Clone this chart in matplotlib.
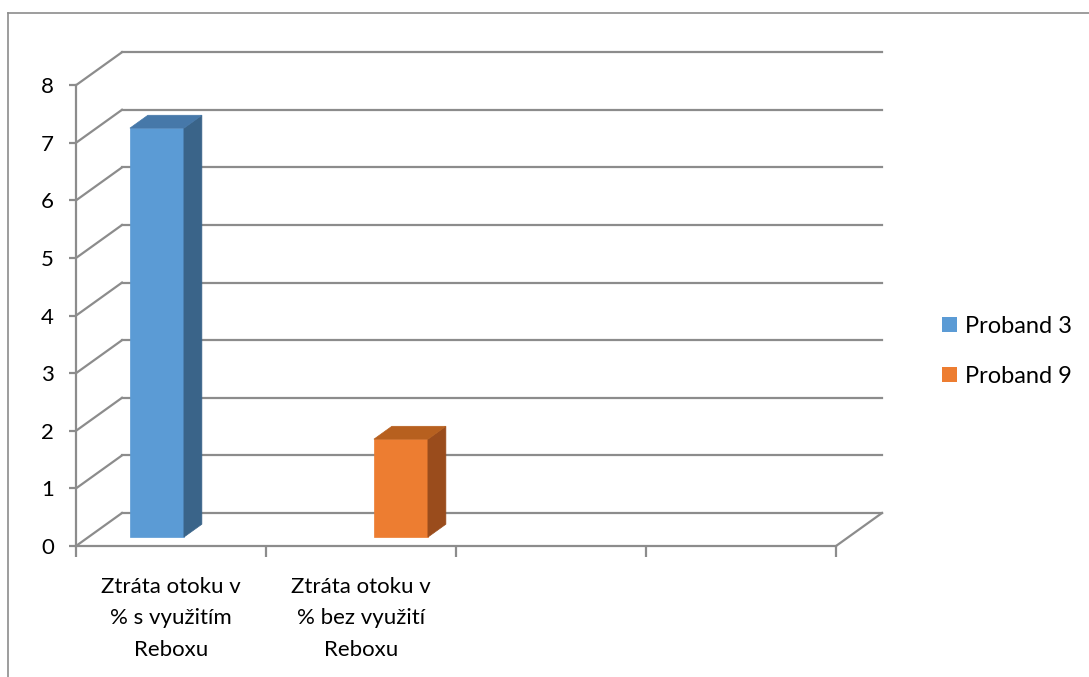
import matplotlib
matplotlib.use("Agg")
import matplotlib.pyplot as plt
from matplotlib.patches import Polygon, Patch
from matplotlib.lines import Line2D

# ---- data ----
categories = ["Ztráta otoku v\n% s využitím\nReboxu",
              "Ztráta otoku v\n% bez využití\nReboxu", "", ""]
series_names = ["Proband 3", "Proband 9"]
proband3 = [7.1, None, None, None]
proband9 = [None, 1.7, None, None]
y_ticks = [0, 1, 2, 3, 4, 5, 6, 7, 8]

plt.rcParams['font.family'] = ['Lato', 'DejaVu Sans']

W, H = 1089, 677
fig = plt.figure(figsize=(W / 100, H / 100), dpi=100)
PX_X, PX_Y = 190.0, 57.6
XMAX, YMAX = 4.25, 8.7
ax = fig.add_axes([76 / W, (H - 546) / H, XMAX * PX_X / W, YMAX * PX_Y / H])
ax.set_xlim(0, XMAX)
ax.set_ylim(0, YMAX)

DX = 46 / PX_X
DY = 33 / PX_Y
grid_c = '#8c8c8c'


def proj(x, y, d):
    return (x + d * DX, y + d * DY)


n = len(categories)
# back wall gridlines and side wall diagonals
for v in y_ticks:
    p0 = proj(0, v, 1)
    p1 = proj(n, v, 1)
    ax.plot([p0[0], p1[0]], [p0[1], p1[1]], color=grid_c, lw=1.6, clip_on=False, zorder=1)
    f = proj(0, v, 0)
    ax.plot([f[0], p0[0]], [f[1], p0[1]], color=grid_c, lw=1.6, clip_on=False, zorder=1)
# floor right edge
a = proj(n, 0, 0); b = proj(n, 0, 1)
ax.plot([a[0], b[0]], [a[1], b[1]], color=grid_c, lw=1.6, clip_on=False, zorder=1)

# bars
colors = [('#5B9BD5', '#4678A9', '#3A6489'), ('#ED7D31', '#B7601F', '#9A4C1C')]
bar_w = 54 / PX_X
cluster_off = 41.5 / PX_X
d0, d1 = 0.27, 0.66
for s, vals in enumerate([proband3, proband9]):
    front_c, top_c, side_c = colors[s]
    for i, v in enumerate(vals):
        if v is None:
            continue
        xl = i + cluster_off + s * bar_w
        xr = xl + bar_w
        fl0 = proj(xl, 0, d0); fr0 = proj(xr, 0, d0)
        fl1 = proj(xl, v, d0); fr1 = proj(xr, v, d0)
        br0 = proj(xr, 0, d1); br1 = proj(xr, v, d1); bl1 = proj(xl, v, d1)
        ax.add_patch(Polygon([fl0, fr0, fr1, fl1], closed=True, facecolor=front_c,
                             edgecolor=front_c, lw=0.5, zorder=3))
        ax.add_patch(Polygon([fr0, br0, br1, fr1], closed=True, facecolor=side_c,
                             edgecolor=side_c, lw=0.5, zorder=3))
        ax.add_patch(Polygon([fl1, fr1, br1, bl1], closed=True, facecolor=top_c,
                             edgecolor=top_c, lw=0.5, zorder=3))

# axes styling
for sp in ['top', 'right']:
    ax.spines[sp].set_visible(False)
ax.spines['left'].set_bounds(0, 8)
ax.spines['bottom'].set_bounds(0, n)
for sp in ['left', 'bottom']:
    ax.spines[sp].set_color(grid_c)
    ax.spines[sp].set_linewidth(1.6)
ax.set_yticks(y_ticks)
ax.set_yticklabels([str(t) for t in y_ticks], fontsize=16)
ax.tick_params(axis='y', length=5, width=1.6, color=grid_c, pad=11)
ax.set_xticks(list(range(n + 1)))
ax.set_xticklabels([])
ax.tick_params(axis='x', which='major', length=8, width=1.6, color=grid_c)
ax.set_xticks([i + 0.5 for i in range(n)], minor=True)
ax.set_xticklabels(categories, minor=True, fontsize=16, linespacing=1.72)
ax.tick_params(axis='x', which='minor', length=0, pad=22)
ax.patch.set_alpha(0)

# legend
handles = [Patch(facecolor=colors[k][0], edgecolor='none', label=series_names[k]) for k in range(2)]
fig.legend(handles=handles, loc='upper left', bbox_to_anchor=(942 / W, 1 - 316 / H),
           frameon=False, fontsize=17, handlelength=0.62, handleheight=0.62,
           handletextpad=0.35, labelspacing=1.22, borderpad=0, borderaxespad=0)

# chart border
fig.add_artist(Line2D([8 / W, 1], [1 - 13 / H, 1 - 13 / H], transform=fig.transFigure,
                      color='#8c8c8c', lw=1.2))
fig.add_artist(Line2D([8 / W, 8 / W], [0, 1 - 13 / H], transform=fig.transFigure,
                      color='#8c8c8c', lw=1.2))

fig.savefig('out.png', dpi=100)
